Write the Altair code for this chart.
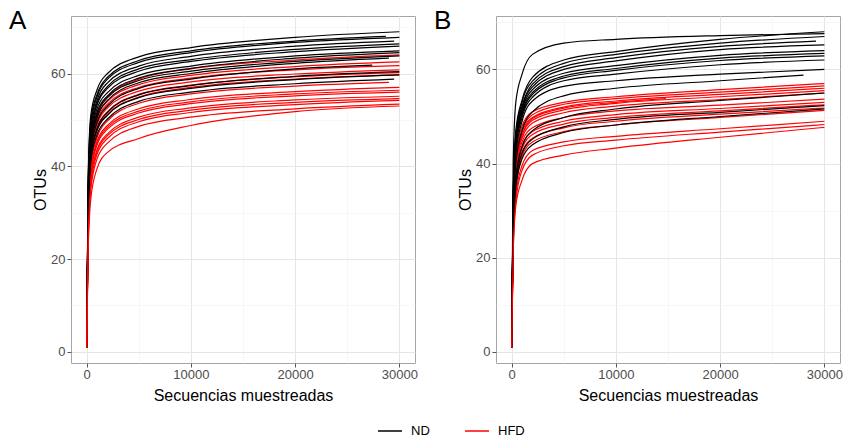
import altair as alt
import pandas as pd

FONT = "Liberation Sans, Arial, sans-serif"

# x positions (Secuencias muestreadas) where each curve was read; the last
# value of every curve is read at that curve's own end point (END lists)
GRID = [1, 150, 400, 1000, 2000, 5000, 10000, 20000]

# ---------------- Panel A ----------------
A_ND_END = [30000, 28700, 30000, 29500, 30000, 30000, 30000, 30000, 30000,
            29000, 27400, 30000, 30000, 29500]
A_ND = [
    [1, 38, 51, 56.5, 60.0, 63.6, 65.6, 67.8, 69.0],
    [1, 37, 50, 55.5, 59.2, 62.8, 64.9, 67.0, 68.0],
    [1, 36, 49, 55.0, 58.8, 62.4, 64.5, 66.7, 67.8],
    [1, 35, 48, 54.2, 58.0, 61.6, 63.7, 65.9, 67.0],
    [1, 34, 47, 53.6, 57.2, 61.0, 63.0, 65.2, 66.4],
    [1, 35, 47, 53.2, 56.8, 60.5, 62.6, 64.7, 65.9],
    [1, 33, 46, 52.4, 55.9, 59.6, 61.6, 63.8, 64.9],
    [1, 32, 45, 51.6, 55.2, 59.0, 61.1, 63.3, 64.5],
    [1, 33, 45, 51.0, 54.8, 58.5, 60.5, 62.6, 63.8],
    [1, 31, 44, 50.5, 54.2, 58.0, 60.0, 62.2, 63.3],
    [1, 31, 43, 49.5, 53.0, 56.8, 58.8, 61.0, 61.8],
    [1, 30, 42, 48.2, 51.6, 55.4, 57.4, 59.4, 60.4],
    [1, 30, 42, 47.8, 51.0, 54.8, 56.8, 58.7, 59.7],
    [1, 29, 41, 46.8, 50.2, 54.0, 56.0, 57.8, 58.8],
]
A_HFD_END = [30000, 30000, 30000, 30000, 30000, 30000, 29000, 30000, 30000,
             30000, 30000, 30000, 30000, 30000, 30000]
A_HFD = [
    [1, 33, 46, 51.5, 55.0, 58.8, 61.0, 62.9, 64.0],
    [1, 32, 45, 50.5, 54.0, 57.6, 59.6, 61.5, 62.5],
    [1, 31, 44, 50.0, 53.4, 57.0, 59.0, 60.8, 61.7],
    [1, 30, 43, 49.0, 52.6, 56.2, 58.2, 59.9, 60.8],
    [1, 29, 42, 48.2, 51.8, 55.5, 57.5, 59.3, 60.2],
    [1, 29, 41, 47.6, 51.2, 54.9, 57.0, 58.8, 59.7],
    [1, 28, 40, 46.2, 49.8, 53.6, 55.6, 57.3, 58.1],
    [1, 27, 39, 45.4, 48.8, 52.4, 54.4, 56.1, 57.0],
    [1, 27, 39, 45.0, 48.4, 51.9, 53.9, 55.6, 56.4],
    [1, 26, 38, 44.6, 48.0, 51.5, 53.5, 55.2, 56.0],
    [1, 26, 37, 43.6, 47.0, 50.6, 52.6, 54.3, 55.1],
    [1, 25, 37, 43.2, 46.6, 50.1, 52.1, 53.8, 54.6],
    [1, 25, 36, 42.6, 46.0, 49.6, 51.6, 53.3, 54.2],
    [1, 24, 35, 41.6, 45.0, 48.6, 50.6, 52.4, 53.4],
    [1, 22, 33, 39.5, 43.0, 46.0, 48.8, 51.8, 53.0],
]

# ---------------- Panel B ----------------
B_ND_END = [30000, 30000, 30000, 29200, 30000, 30000, 30000, 30000, 30000,
            30000, 28000, 30000, 30000, 30000]
B_ND = [
    [1, 40, 53, 59.0, 63.2, 65.6, 66.4, 67.2, 67.6],
    [1, 34, 47, 53.5, 58.3, 62.0, 63.8, 66.4, 68.0],
    [1, 33, 46, 53.0, 57.5, 61.3, 63.2, 65.6, 67.0],
    [1, 33, 46, 52.2, 56.9, 60.6, 62.5, 64.9, 66.0],
    [1, 32, 45, 51.8, 56.3, 60.0, 61.8, 64.2, 65.2],
    [1, 32, 45, 51.4, 55.7, 59.2, 60.8, 63.0, 64.0],
    [1, 31, 44, 50.8, 55.1, 58.6, 60.2, 62.4, 63.4],
    [1, 31, 44, 50.4, 54.7, 58.2, 59.8, 61.9, 62.9],
    [1, 30, 43, 49.8, 54.1, 57.6, 59.0, 61.0, 62.0],
    [1, 30, 42, 49.0, 53.3, 56.4, 57.6, 59.0, 60.0],
    [1, 29, 40, 47.0, 51.0, 54.4, 56.0, 57.6, 58.8],
    [1, 27, 37, 43.6, 47.0, 49.8, 51.6, 53.4, 55.0],
    [1, 26, 36, 42.2, 45.2, 47.8, 49.4, 50.9, 52.3],
    [1, 25, 35, 41.0, 44.0, 46.6, 48.2, 50.0, 51.6],
]
B_HFD_END = [30000, 30000, 30000, 30000, 30000, 30000, 14800, 30000, 30000,
             30000, 30000, 30000, 30000, 30000]
B_HFD = [
    [1, 30, 41, 48.0, 51.0, 53.0, 54.2, 55.7, 57.0],
    [1, 29, 40, 47.2, 50.4, 52.6, 53.8, 55.2, 56.5],
    [1, 29, 40, 46.8, 49.8, 52.0, 53.3, 54.7, 56.0],
    [1, 28, 39, 46.0, 49.2, 51.4, 52.8, 54.2, 55.5],
    [1, 28, 39, 45.4, 48.6, 50.8, 52.2, 53.6, 55.0],
    [1, 27, 38, 44.6, 47.6, 49.8, 51.2, 52.4, 53.7],
    [1, 28, 39, 46.0, 49.6, 51.8, 53.0, 53.8],
    [1, 26, 37, 43.8, 46.8, 49.0, 50.4, 51.7, 53.0],
    [1, 26, 36, 43.2, 46.2, 48.4, 49.8, 51.2, 52.5],
    [1, 25, 35, 42.4, 45.4, 47.6, 49.0, 50.5, 51.8],
    [1, 24, 34, 41.6, 44.6, 46.8, 48.2, 49.8, 51.3],
    [1, 23, 33, 39.6, 42.8, 44.6, 45.8, 47.4, 49.0],
    [1, 22, 32, 38.6, 41.8, 43.8, 45.0, 46.7, 48.3],
    [1, 21, 31, 36.5, 40.0, 41.8, 43.3, 45.6, 47.7],
]

X_TICKS = [0, 5000, 10000, 15000, 20000, 25000, 30000]
Y_TICKS = [0, 10, 20, 30, 40, 50, 60, 70]


def build(nd_end, nd, hfd_end, hfd):
    rows = []
    groups = [("ND", nd_end, nd), ("HFD", hfd_end, hfd)]
    n = max(len(nd), len(hfd))
    k = 0
    for i in range(n):
        for name, ends, curves in groups:
            if i >= len(curves):
                continue
            end = ends[i]
            xs = [g for g in GRID if g < end] + [end]
            ys = curves[i]
            for x, y in zip(xs, ys):
                rows.append({"muestra": f"s{k:03d}", "grupo": name, "x": x, "y": y})
            k += 1
    return pd.DataFrame(rows)


def panel(df, letter, ydom):
    x_axis = alt.Axis(
        values=X_TICKS,
        format="d",
        labelExpr="datum.value % 10000 === 0 ? datum.label : ''",
        title="Secuencias muestreadas",
        titlePadding=6,
        labelPadding=1,
        gridColor={"condition": {"test": "datum.value % 10000 === 0", "value": "#e6e6e6"}, "value": "#f2f2f2"},
        gridWidth={"condition": {"test": "datum.value % 10000 === 0", "value": 1}, "value": 0.6},
        tickOpacity={"condition": {"test": "datum.value % 10000 === 0", "value": 1}, "value": 0},
    )
    y_axis = alt.Axis(
        values=Y_TICKS,
        labelExpr="datum.value % 20 === 0 ? datum.label : ''",
        title="OTUs",
        titlePadding=2,
        labelPadding=2,
        gridColor={"condition": {"test": "datum.value % 20 === 0", "value": "#e6e6e6"}, "value": "#f2f2f2"},
        gridWidth={"condition": {"test": "datum.value % 20 === 0", "value": 1}, "value": 0.6},
        tickOpacity={"condition": {"test": "datum.value % 20 === 0", "value": 1}, "value": 0},
    )
    return alt.Chart(df).mark_line(strokeWidth=1.2, interpolate="monotone").encode(
        x=alt.X("x:Q", scale=alt.Scale(domain=[-1500, 31500], nice=False, zero=False), axis=x_axis),
        y=alt.Y("y:Q", scale=alt.Scale(domain=ydom, nice=False, zero=False), axis=y_axis),
        color=alt.Color(
            "grupo:N",
            scale=alt.Scale(domain=["ND", "HFD"], range=["#000000", "#ff0000"]),
            legend=alt.Legend(title=None),
        ),
        detail="muestra:N",
    ).properties(
        width=344,
        height=347,
        title=alt.TitleParams(
            letter, anchor="start", frame="bounds", offset=-23, dx=-23.5, dy=-5,
            fontSize=26, fontWeight="normal", font=FONT, color="#000000",
        ),
    )


dfA = build(A_ND_END, A_ND, A_HFD_END, A_HFD)
dfB = build(B_ND_END, B_ND, B_HFD_END, B_HFD)

chart = alt.hconcat(
    panel(dfA, "A", [-2.4, 72.4]),
    panel(dfB, "B", [-2.35, 71.35]),
    spacing=15,
).properties(
    padding={"left": 8, "top": 7, "right": 0, "bottom": 0},
    background="#ffffff",
).configure_view(
    stroke="#a6a6a6", strokeWidth=1,
).configure_axis(
    domain=False,
    labelFont=FONT, labelFontSize=13, labelColor="#4d4d4d",
    titleFont=FONT, titleFontSize=16, titleColor="#000000", titleFontWeight="normal",
    tickColor="#555555", tickSize=4, tickWidth=1,
).configure_legend(
    orient="none", legendX=306, legendY=402,
    direction="horizontal",
    labelFont=FONT, labelFontSize=13, labelColor="#000000",
    symbolType="stroke", symbolSize=576, symbolStrokeWidth=1.5,
    labelOffset=8, columnPadding=32, padding=0,
)

chart.save("out.html", embed_options={"renderer": "svg", "actions": False})
